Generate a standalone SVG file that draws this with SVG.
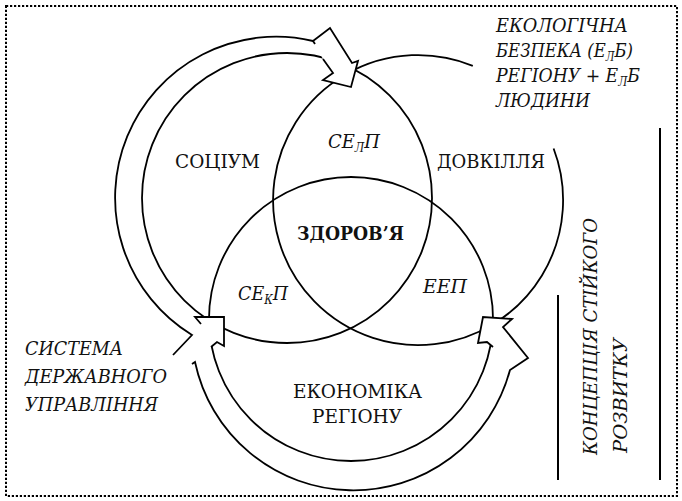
<svg xmlns="http://www.w3.org/2000/svg" width="682" height="501" viewBox="0 0 682 501">
<style>
.ln{fill:none;stroke:#000;stroke-width:1.8;stroke-linejoin:miter}
.wf{fill:#fff;stroke:none}
.t{font-family:"DejaVu Serif","Liberation Serif",serif;font-size:19px;fill:#111}
.it{font-style:italic}
.b{font-weight:bold}
.sub{font-size:12px}
</style>
<rect x="6" y="6" width="671" height="490" fill="none" stroke="#000" stroke-width="2" stroke-dasharray="2.2 1.8"/>

<g id="socium">
<circle class="ln" cx="287" cy="198" r="145"/>
<text class="t" x="175" y="168" textLength="85" lengthAdjust="spacingAndGlyphs">СОЦІУМ</text>
</g>
<g id="dovkillia">
<path class="ln" d="M553.6,148.5 A145,145 0 1 1 472.8,65.8"/>
<text class="t" x="437" y="168" textLength="108" lengthAdjust="spacingAndGlyphs">ДОВКІЛЛЯ</text>
</g>
<g id="zdorovia">
<circle class="ln" cx="351" cy="319" r="142"/>
<text class="t b" x="297" y="240" textLength="107" lengthAdjust="spacingAndGlyphs">ЗДОРОВ’Я</text>
</g>
<g id="selp">
<text class="t it" x="328" y="148" textLength="52" lengthAdjust="spacingAndGlyphs">СЕ<tspan class="sub" dy="4">Л</tspan><tspan dy="-4">П</tspan></text>
</g>
<g id="sekp">
<text class="t it" x="238" y="300" textLength="50" lengthAdjust="spacingAndGlyphs">СЕ<tspan class="sub" dy="4">К</tspan><tspan dy="-4">П</tspan></text>
</g>
<g id="eep"><text class="t it" x="423" y="293" textLength="44" lengthAdjust="spacingAndGlyphs">ЕЕП</text></g>
<g id="economy">
<text class="t" x="293" y="398" textLength="129" lengthAdjust="spacingAndGlyphs">ЕКОНОМІКА</text>
<text class="t" x="312" y="423" textLength="90" lengthAdjust="spacingAndGlyphs">РЕГІОНУ</text>
</g>

<g id="connectors">
<polygon class="wf" points="313,41 330,28 352,63 358,61 351,87 323,80 333,73 323,59"/>
<polygon class="wf" points="211,347 217,342 224,346 224,317 195,317 201,324 192,335 173,355 195,362"/>
<polygon class="wf" points="493,347 487,342 478,343 483,317 512,319 503,327 528,358 510,370"/>
<path class="ln" d="M323,59 L333,73 L323,80 L351,87 L358,61 L352,63 L330,28 L313,41 A161,161 0 0 0 192,335 L173,355"/>
<path class="ln" d="M313,41 L315,44"/>
<path class="ln" d="M211,347 L217,342 L224,346 L224,317 L195,317 L201,324"/>
<path class="ln" d="M493,347 L487,342 L478,343 L483,317 L512,319 L503,327 L528,358 L510,370 A162,162 0 0 1 195,362 L192,364"/>
</g>

<g id="system">
<text class="t it" x="25" y="355" textLength="98" lengthAdjust="spacingAndGlyphs">СИСТЕМА</text>
<text class="t it" x="25" y="383" textLength="142" lengthAdjust="spacingAndGlyphs">ДЕРЖАВНОГО</text>
<text class="t it" x="25" y="411" textLength="133" lengthAdjust="spacingAndGlyphs">УПРАВЛІННЯ</text>
</g>
<g id="ecosafety">
<text class="t it" x="496" y="32" textLength="132" lengthAdjust="spacingAndGlyphs">ЕКОЛОГІЧНА</text>
<text class="t it" x="496" y="57" textLength="137" lengthAdjust="spacingAndGlyphs">БЕЗПЕКА (Е<tspan class="sub" dy="4">Л</tspan><tspan dy="-4">Б)</tspan></text>
<text class="t it" x="496" y="82" textLength="144" lengthAdjust="spacingAndGlyphs">РЕГІОНУ + Е<tspan class="sub" dy="4">Л</tspan><tspan dy="-4">Б</tspan></text>
<text class="t it" x="496" y="107" textLength="94" lengthAdjust="spacingAndGlyphs">ЛЮДИНИ</text>
</g>
<g id="concept">
<line x1="558" y1="295" x2="558" y2="480" stroke="#000" stroke-width="2"/>
<line x1="660" y1="128" x2="660" y2="480" stroke="#000" stroke-width="2"/>
<text class="t it" transform="translate(597,455) rotate(-90)" textLength="237" lengthAdjust="spacingAndGlyphs">КОНЦЕПЦІЯ СТІЙКОГО</text>
<text class="t it" transform="translate(627,453) rotate(-90)" textLength="115" lengthAdjust="spacingAndGlyphs">РОЗВИТКУ</text>
</g>
</svg>
